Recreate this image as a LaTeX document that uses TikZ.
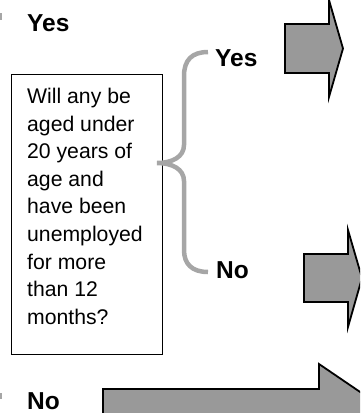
\documentclass[tikz,border=0pt]{standalone}
\usepackage{fontspec}
\setmainfont{Liberation Sans}
\definecolor{arrowgray}{HTML}{999999}
\definecolor{bracegray}{HTML}{A6A6A6}
\tikzset{
  bigarrow/.style={draw=black, fill=arrowgray, line width=1.8pt, line join=miter},
  label/.style={anchor=west, inner sep=0pt, font=\fontsize{24.5}{28}\selectfont\bfseries},
  qbox/.style={draw=black, line width=1pt, inner sep=0pt, minimum width=151pt, minimum height=280pt},
  qtext/.style={anchor=north west, inner sep=0pt, align=left, font=\fontsize{21.2}{27.6}\selectfont},
  bracestyle/.style={draw=bracegray, line width=4.5pt, line cap=butt},
  bulletsq/.style={fill=bracegray, draw=none}
}
\begin{document}
\begin{tikzpicture}[x=1pt,y=-1pt]
\useasboundingbox (0,0) rectangle (360,413);
\clip (0,0) rectangle (360,413);
% bullets
\fill[bulletsq] (-4,13) rectangle (2,20);
\fill[bulletsq] (-4,393) rectangle (2,399);
% labels
\node[label] (yesL) at (27,23.5) {Yes};
\node[label] (noL) at (27,401.5) {No};
\node[label] (yesM) at (215,58.5) {Yes};
\node[label] (noM) at (216,270.5) {No};
% question box
\node[qbox] (box) at (86.5,214) {};
\node[qtext] (q) at (27,88) {Will any be\\aged under\\20 years of\\age and\\have been\\unemployed\\for more\\than 12\\months?};
% brace
\draw[bracestyle] (208,52) .. controls (192,52) and (184,60) .. (184,76)
  -- (184,145) .. controls (184,157) and (172,163) .. (157,163)
  .. controls (172,163) and (184,169) .. (184,181)
  -- (184,250) .. controls (184,264) and (192,272) .. (208,272);
% arrows
\draw[bigarrow] (285,24) -- (329,24) -- (329,0) -- (343,48.5) -- (329,97) -- (329,73) -- (285,73) -- cycle;
\draw[bigarrow] (304,254) -- (348,254) -- (348,230) -- (362,278) -- (348,327) -- (348,302) -- (304,302) -- cycle;
\draw[bigarrow] (103,389) -- (319,389) -- (319,364) -- (391,413) -- (319,462) -- (319,437) -- (103,437) -- cycle;
\end{tikzpicture}
\end{document}
